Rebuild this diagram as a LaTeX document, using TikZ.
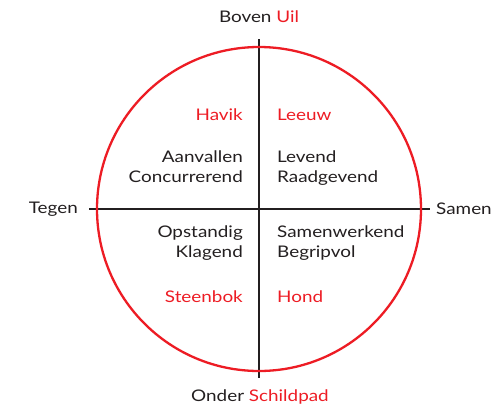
\documentclass[tikz,border=0pt]{standalone}
\usepackage{fontspec}
\setmainfont[FakeStretch=1.18]{Lato}
\definecolor{cred}{HTML}{ED1C24}
\definecolor{cdark}{HTML}{231F20}
\begin{document}
\begin{tikzpicture}[x=1pt,y=-1pt,
  lbl/.style={font=\fontsize{16}{20}\selectfont, text=cdark, inner sep=0pt, align=#1},
  lbl/.default=center,
  ax/.style={draw=cdark, line width=2pt},
  ring/.style={draw=cred, line width=2.3pt}]
\useasboundingbox (0,0) rectangle (501,405);
\coordinate (c) at (259,209);
\coordinate (top) at (259,39);
\coordinate (bot) at (259,378);
\coordinate (lft) at (89,209);
\coordinate (rgt) at (430,209);
\draw[ax] (top) -- (bot);
\draw[ax] (lft) -- (rgt);
\draw[ring] (c) circle[radius=162];
\node[lbl, anchor=base] (boven) at (259,22) {Boven \textcolor{cred}{Uil}};
\node[lbl, anchor=base] (onder) at (260,401) {Onder \textcolor{cred}{Schildpad}};
\node[lbl, anchor=east] (tegen) at (78,209) {Tegen};
\node[lbl, anchor=west] (samen) at (436,209) {Samen};
\node[lbl, anchor=base east, text=cred] (havik) at (243,120) {Havik};
\node[lbl, anchor=base west, text=cred] (leeuw) at (277,120) {Leeuw};
\node[lbl=right, anchor=north east] (aan) at (243,151) {Aanvallen\\Concurrerend};
\node[lbl=left, anchor=north west] (lev) at (277,151) {Levend\\Raadgevend};
\node[lbl=right, anchor=north east] (ops) at (243,226) {Opstandig\\Klagend};
\node[lbl=left, anchor=north west] (sam) at (277,226) {Samenwerkend\\Begripvol};
\node[lbl, anchor=base east, text=cred] (steen) at (243,302) {Steenbok};
\node[lbl, anchor=base west, text=cred] (hond) at (277,302) {Hond};
\end{tikzpicture}
\end{document}
